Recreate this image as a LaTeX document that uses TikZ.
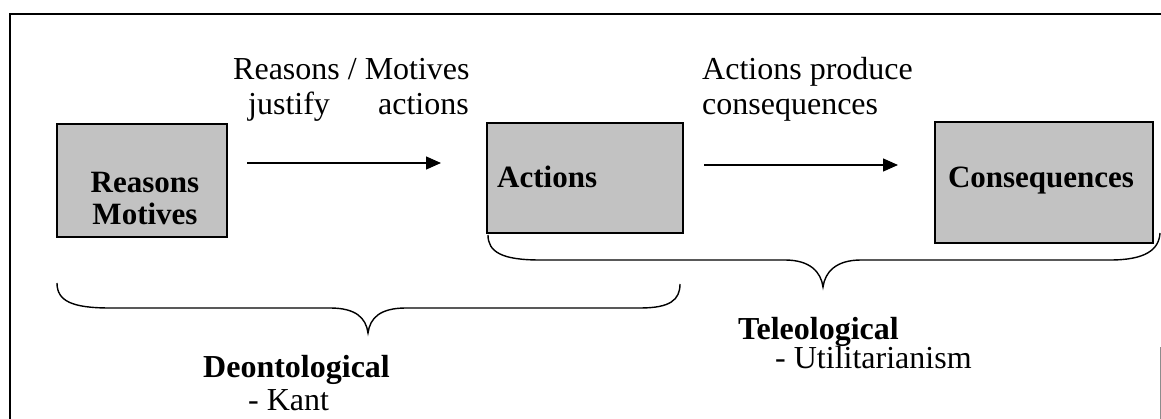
\documentclass[tikz,border=0pt]{standalone}
\usepackage{fontspec}
\setmainfont{Liberation Serif}
\usetikzlibrary{arrows.meta}
\definecolor{boxgray}{gray}{0.76}
\definecolor{framegray}{gray}{0.55}
\begin{document}
\begin{tikzpicture}[x=1pt,y=-1pt,
  box/.style={draw=black, line width=1.1pt, fill=boxgray, inner sep=0pt},
  txt/.style={inner sep=0pt, font=\fontsize{32}{35}\selectfont},
  btxt/.style={inner sep=0pt, font=\fontsize{32}{35}\selectfont\bfseries},
  boxtxt/.style={inner sep=0pt, font=\fontsize{31}{33}\selectfont\bfseries},
  conn/.style={line width=1.3pt, -{Triangle[length=15pt,width=13pt]}},
  brace/.style={line width=1.4pt}]
\useasboundingbox (0,0) rectangle (1161,419);
% frame
\draw[line width=1.5pt] (10,419) -- (10,14) -- (1161,14);
\draw[line width=0.8pt, framegray] (1160,347) -- (1160,419);
% boxes
\node[box, minimum width=170pt, minimum height=113pt] (rm) at (142,180.5) {};
\node[box, minimum width=196pt, minimum height=110pt] (act) at (585,178) {};
\node[box, minimum width=218pt, minimum height=121pt] (cons) at (1044,182.5) {};
% box texts
\node[boxtxt, anchor=base] (rmA) at (145,193) {Reasons};
\node[boxtxt, anchor=base] (rmB) at (145,225) {Motives};
\node[boxtxt, anchor=base west] (actT) at (497,188) {Actions};
\node[boxtxt, anchor=base] (consT) at (1041,188) {Consequences};
% arrows
\coordinate (a1s) at (247,163);
\coordinate (a1e) at (441,163);
\coordinate (a2s) at (704,165);
\coordinate (a2e) at (898,165);
\draw[conn] (a1s) -- (a1e);
\draw[conn] (a2s) -- (a2e);
% arrow labels
\node[txt, anchor=base west] (l1a) at (233,80) {Reasons / Motives};
\node[txt, anchor=base west] (l1b) at (248,115) {justify};
\node[txt, anchor=base east] (l1c) at (469,115) {actions};
\node[txt, anchor=base west] (l2a) at (702,80) {Actions produce};
\node[txt, anchor=base west] (l2b) at (702,115) {consequences};
% braces
\draw[brace] (57,283) .. controls (57,301) and (72,308) .. (110,308) -- (330,308)
  .. controls (356,308) and (366,318) .. (368,333)
  .. controls (370,318) and (380,308) .. (406,308) -- (640,308)
  .. controls (670,308) and (680,300) .. (680,284);
\draw[brace] (488,235) .. controls (488,252) and (502,260) .. (540,260) -- (785,260)
  .. controls (810,260) and (821,272) .. (823,287)
  .. controls (825,272) and (836,260) .. (861,260) -- (1110,260)
  .. controls (1145,260) and (1159,250) .. (1160,233);
% school labels
\node[btxt, anchor=base west] (deo) at (203,377) {Deontological};
\node[txt, anchor=base west] (kant) at (248,410) {- Kant};
\node[btxt, anchor=base west] (tel) at (738,340) {Teleological};
\node[txt, anchor=base west] (util) at (775,368) {- Utilitarianism};
\end{tikzpicture}
\end{document}
